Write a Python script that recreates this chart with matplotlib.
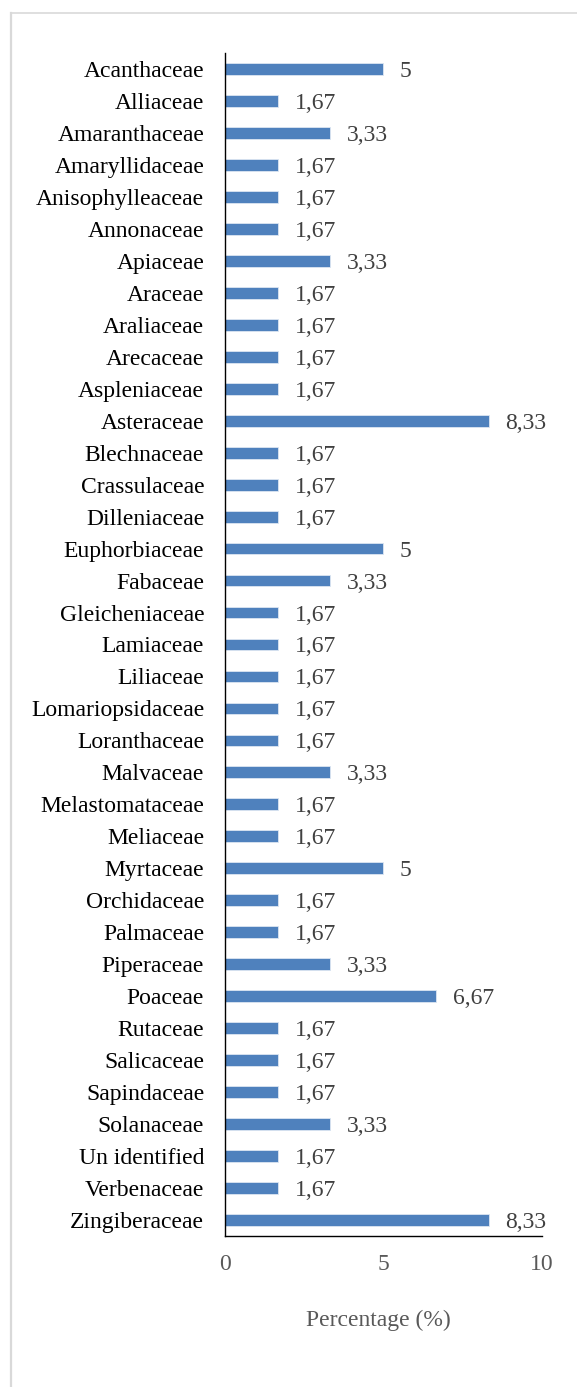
import matplotlib
matplotlib.use("Agg")
import matplotlib.pyplot as plt

families = [
    "Acanthaceae", "Alliaceae", "Amaranthaceae", "Amaryllidaceae", "Anisophylleaceae",
    "Annonaceae", "Apiaceae", "Araceae", "Araliaceae", "Arecaceae", "Aspleniaceae",
    "Asteraceae", "Blechnaceae", "Crassulaceae", "Dilleniaceae", "Euphorbiaceae",
    "Fabaceae", "Gleicheniaceae", "Lamiaceae", "Liliaceae", "Lomariopsidaceae",
    "Loranthaceae", "Malvaceae", "Melastomataceae", "Meliaceae", "Myrtaceae",
    "Orchidaceae", "Palmaceae", "Piperaceae", "Poaceae", "Rutaceae", "Salicaceae",
    "Sapindaceae", "Solanaceae", "Un identified", "Verbenaceae", "Zingiberaceae",
]
percentages = [
    5, 1.67, 3.33, 1.67, 1.67,
    1.67, 3.33, 1.67, 1.67, 1.67, 1.67,
    8.33, 1.67, 1.67, 1.67, 5,
    3.33, 1.67, 1.67, 1.67, 1.67,
    1.67, 3.33, 1.67, 1.67, 5,
    1.67, 1.67, 3.33, 6.67, 1.67, 1.67,
    1.67, 3.33, 1.67, 1.67, 8.33,
]
x_ticks = [0, 5, 10]
x_label = "Percentage (%)"

plt.rcParams["font.family"] = ["Liberation Serif", "DejaVu Serif"]

W, H = 577, 1387
fig = plt.figure(figsize=(W / 100, H / 100), dpi=100)
fig.patch.set_facecolor("white")

# light chart-area frame (left and top edges visible)
fig.add_artist(plt.Line2D([11 / W, 11 / W], [0, 1 - 12.5 / H], color="#d9d9d9",
                          lw=1.6, transform=fig.transFigure))
fig.add_artist(plt.Line2D([11 / W, 1], [1 - 12.5 / H, 1 - 12.5 / H], color="#d9d9d9",
                          lw=1.2, transform=fig.transFigure))

left, right = 225 / W, 541.7 / W
top, bottom = 1 - 53 / H, 1 - 1236 / H
ax = fig.add_axes([left, bottom, right - left, top - bottom])

n = len(families)
ypos = list(range(n))
ax.barh(ypos, percentages, height=0.37, color="#4f81bd", edgecolor="#dce6f2",
        linewidth=0.6, zorder=2)

ax.set_ylim(n - 0.5, -0.5)
ax.set_xlim(0, 10)
ax.set_yticks(ypos)
ax.set_yticklabels(families, fontsize=17, color="black")
for lbl in ax.get_yticklabels():
    lbl.set_verticalalignment("center_baseline")
ax.set_xticks(x_ticks)
ax.set_xticklabels([str(t) for t in x_ticks], fontsize=17, color="#595959")
ax.tick_params(axis="y", length=0, pad=15)
ax.tick_params(axis="x", length=0, pad=13)

for s in ["top", "right"]:
    ax.spines[s].set_visible(False)
ax.spines["left"].set_color("black")
ax.spines["left"].set_linewidth(1.0)
ax.spines["bottom"].set_color("black")
ax.spines["bottom"].set_linewidth(1.0)

for y, v in zip(ypos, percentages):
    txt = f"{v:g}".replace(".", ",")
    ax.annotate(txt, xy=(v, y), xytext=(12, 0), textcoords="offset points",
                ha="left", va="center_baseline", fontsize=17, color="#404040")

fig.text(378 / W, 1 - 1320 / H, x_label, ha="center", va="center",
         fontsize=17, color="#595959")

fig.savefig("out.png", dpi=100, facecolor="white")
